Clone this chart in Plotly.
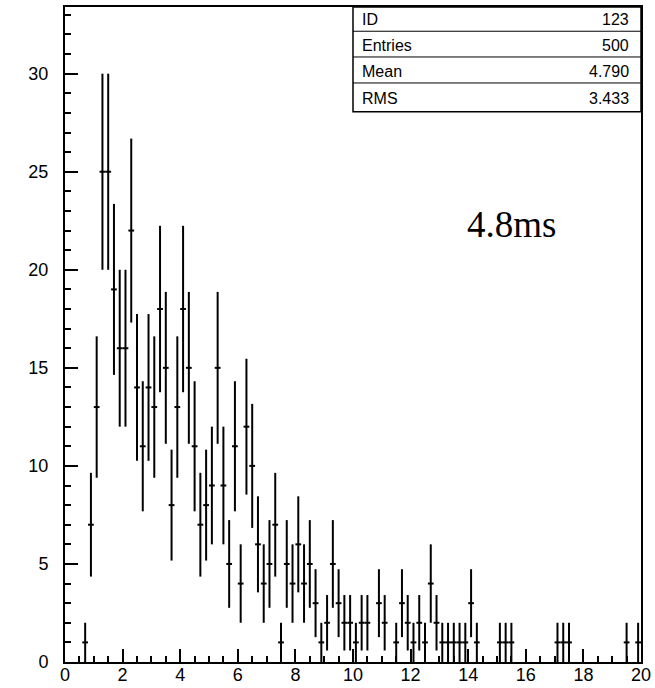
import numpy as np
import plotly.graph_objects as go

# Histogram ID 123: bin width 0.2 on [0, 20]; only non-empty bins listed
bin_centers = [0.7, 0.9, 1.1, 1.3, 1.5, 1.7, 1.9, 2.1, 2.3, 2.5, 2.7, 2.9, 3.1, 3.3,
               3.5, 3.7, 3.9, 4.1, 4.3, 4.5, 4.7, 4.9, 5.1, 5.3, 5.5, 5.7, 5.9, 6.1,
               6.3, 6.5, 6.7, 6.9, 7.1, 7.3, 7.5, 7.7, 7.9, 8.1, 8.3, 8.5, 8.7, 8.9,
               9.1, 9.3, 9.5, 9.7, 9.9, 10.1, 10.3, 10.5, 10.9, 11.1, 11.5, 11.7,
               11.9, 12.1, 12.3, 12.5, 12.7, 12.9, 13.1, 13.3, 13.5, 13.7, 13.9,
               14.1, 14.3, 15.1, 15.3, 15.5, 17.1, 17.3, 17.5, 19.5, 19.9]
counts = [1, 7, 13, 25, 25, 19, 16, 16, 22, 14, 11, 14, 13, 18,
          15, 8, 13, 18, 15, 11, 7, 8, 9, 15, 9, 5, 11, 4,
          12, 10, 6, 4, 5, 7, 1, 5, 4, 6, 4, 5, 3, 1,
          2, 5, 3, 2, 2, 1, 2, 2, 3, 2, 1, 3,
          2, 1, 2, 1, 4, 2, 1, 1, 1, 1, 1,
          3, 1, 1, 1, 1, 1, 1, 1, 1, 1]
bin_width = 0.2

stat_names = ["ID", "Entries", "Mean", "RMS"]
stat_values = ["123", "500", "4.790", "3.433"]
label_text = "4.8ms"

errors = np.sqrt(np.array(counts, dtype=float))

fig = go.Figure()
fig.add_trace(go.Scatter(
    x=bin_centers, y=counts, mode="markers",
    marker=dict(size=1, color="black"),
    error_y=dict(type="data", array=errors, width=0, thickness=2, color="black"),
    error_x=dict(type="constant", value=bin_width / 2, width=0, thickness=2, color="black"),
    showlegend=False, hoverinfo="x+y",
))

axis_font = dict(family="Liberation Sans, Arial, sans-serif", size=18, color="black")

fig.update_xaxes(
    range=[0, 20], tickvals=list(range(0, 21, 2)), ticks="inside", ticklen=13,
    tickwidth=1.5, tickcolor="black", showline=True, linewidth=2, linecolor="black",
    mirror=True, showgrid=False, zeroline=False, tickfont=axis_font,
    ticklabelstandoff=-5, automargin=False,
    minor=dict(dtick=0.5, ticks="inside", ticklen=6, tickwidth=1.5, tickcolor="black",
               showgrid=False),
)
fig.update_yaxes(
    range=[0, 33.4], tickvals=list(range(0, 31, 5)), ticks="inside", ticklen=13,
    tickwidth=1.5, tickcolor="black", showline=True, linewidth=2, linecolor="black",
    mirror=True, showgrid=False, zeroline=False, tickfont=axis_font,
    ticklabelstandoff=11, automargin=False,
    minor=dict(dtick=1, ticks="inside", ticklen=6, tickwidth=1.5, tickcolor="black",
               showgrid=False),
)

# Statistics box in the upper right corner
box_x0, box_y0 = 0.5, 0.84
row_lines = [0.963, 0.9237, 0.884]
row_centers = [0.981, 0.941, 0.901, 0.861]
shapes = [dict(type="rect", xref="paper", yref="paper", x0=box_x0, x1=1, y0=box_y0, y1=1,
               line=dict(color="black", width=1.5), fillcolor="white")]
for ly in row_lines:
    shapes.append(dict(type="line", xref="paper", yref="paper", x0=box_x0, x1=1,
                       y0=ly, y1=ly, line=dict(color="black", width=1)))

stat_font = dict(family="Liberation Sans, Arial, sans-serif", size=16, color="black")
annotations = []
for name, val, cy in zip(stat_names, stat_values, row_centers):
    annotations.append(dict(x=0.513, y=cy, xref="paper", yref="paper", text=name,
                            showarrow=False, xanchor="left", yanchor="middle", font=stat_font))
    annotations.append(dict(x=0.982, y=cy, xref="paper", yref="paper", text=val,
                            showarrow=False, xanchor="right", yanchor="middle", font=stat_font))
annotations.append(dict(x=15.5, y=22.3, xref="x", yref="y", text=label_text, showarrow=False,
                        xanchor="center", yanchor="middle",
                        font=dict(family="Liberation Serif, Times New Roman, serif",
                                  size=37, color="black")))

fig.update_layout(
    width=655, height=688, autosize=False,
    margin=dict(l=65, r=14, t=7, b=26, autoexpand=False),
    paper_bgcolor="white", plot_bgcolor="white",
    shapes=shapes, annotations=annotations,
)

fig.write_html("out.html")
